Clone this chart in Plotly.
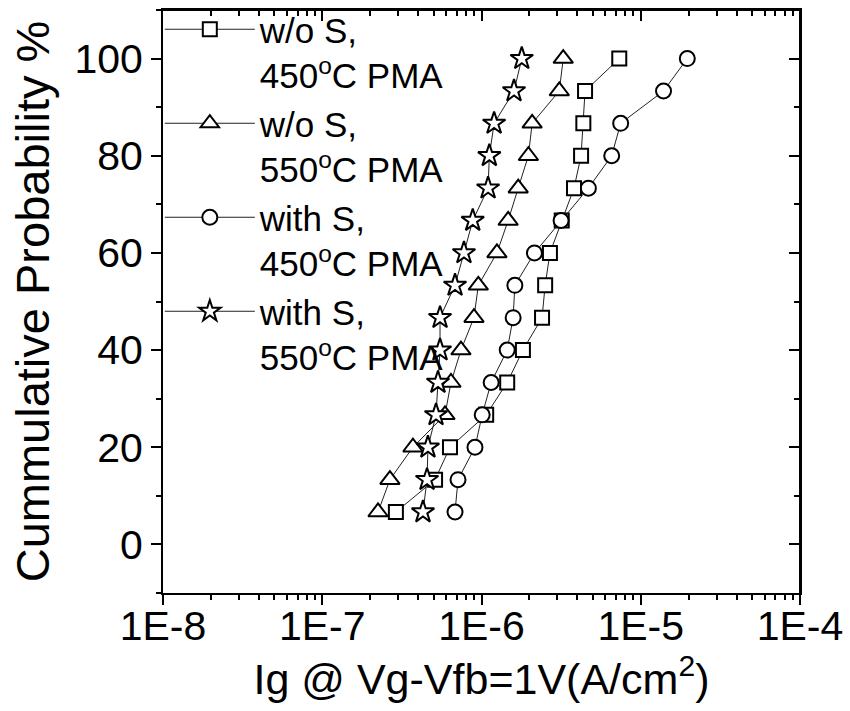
import plotly.graph_objects as go

prob = [6.67, 13.33, 20.0, 26.67, 33.33, 40.0, 46.67, 53.33, 60.0, 66.67, 73.33, 80.0, 86.67, 93.33, 100.0]

ig_woS_450 = [2.90e-7, 5.11e-7, 6.34e-7, 1.07e-6, 1.45e-6, 1.82e-6, 2.40e-6, 2.51e-6, 2.69e-6,
              3.19e-6, 3.81e-6, 4.22e-6, 4.36e-6, 4.47e-6, 7.33e-6]
ig_woS_550 = [2.24e-7, 2.66e-7, 3.71e-7, 5.90e-7, 6.43e-7, 7.43e-7, 8.97e-7, 9.55e-7, 1.25e-6,
              1.47e-6, 1.70e-6, 1.97e-6, 2.08e-6, 3.08e-6, 3.26e-6]
ig_S_450 = [6.82e-7, 7.12e-7, 9.10e-7, 1.01e-6, 1.15e-6, 1.45e-6, 1.58e-6, 1.62e-6, 2.15e-6,
            3.16e-6, 4.69e-6, 6.57e-6, 7.48e-6, 1.39e-5, 1.96e-5]
ig_S_550 = [4.29e-7, 4.55e-7, 4.61e-7, 5.18e-7, 5.33e-7, 5.49e-7, 5.49e-7, 6.82e-7, 7.76e-7,
            8.81e-7, 1.10e-6, 1.12e-6, 1.20e-6, 1.60e-6, 1.79e-6]

names = ["w/o S,<br>450<sup>o</sup>C PMA", "w/o S,<br>550<sup>o</sup>C PMA",
         "with S,<br>450<sup>o</sup>C PMA", "with S,<br>550<sup>o</sup>C PMA"]
series = [ig_woS_450, ig_woS_550, ig_S_450, ig_S_550]
symbols = ["square", "triangle-up", "circle", "star"]
sizes = [14, 17, 15, 17]

x_tickvals = [1e-8, 1e-7, 1e-6, 1e-5, 1e-4]
x_ticktext = ["1E-8", "1E-7", "1E-6", "1E-5", "1E-4"]
x_minor = [m * 10.0 ** e for e in range(-8, -4) for m in range(2, 10)]
y_tickvals = [0, 20, 40, 60, 80, 100]
y_minor = [-10, 10, 30, 50, 70, 90, 110]

FONT = "Liberation Sans, Arial, sans-serif"

fig = go.Figure()
for name, xs, sym, sz in zip(names, series, symbols, sizes):
    fig.add_trace(go.Scatter(
        x=xs, y=prob, name=name, mode="lines+markers",
        line=dict(color="#222", width=1),
        marker=dict(symbol=sym, size=sz, color="white", line=dict(color="black", width=2)),
    ))

# invisible anchor trace for the mirrored (top/right) tick axes
fig.add_trace(go.Scatter(x=[1e-6], y=[50], xaxis="x2", yaxis="y2", mode="markers",
                         marker=dict(opacity=0), showlegend=False, hoverinfo="skip"))

main_common = dict(showline=True, mirror=True, linecolor="black", linewidth=2, showgrid=False, zeroline=False)
twin_common = dict(showline=True, linecolor="black", linewidth=2, showgrid=False, zeroline=False,
                   showticklabels=False, ticks="inside", ticklen=10, tickwidth=1.5, tickcolor="black")

fig.update_layout(
    width=850, height=711,
    margin=dict(l=163, r=50, t=10, b=118, autoexpand=False),
    paper_bgcolor="white", plot_bgcolor="white",
    font=dict(family=FONT, color="black"),
    showlegend=True,
    legend=dict(x=-0.005, y=1.0, yref="container", xanchor="left", yanchor="top", bgcolor="rgba(0,0,0,0)",
                font=dict(size=35, family=FONT), valign="top", itemwidth=90, maxheight=700,
                tracegroupgap=0, borderwidth=0),
    xaxis=dict(type="log", range=[-8, -4], anchor="y", tickmode="array", tickvals=x_tickvals, ticktext=x_ticktext,
               ticks="outside", ticklen=10, tickwidth=1.5, tickcolor="black",
               tickfont=dict(size=41, family=FONT), ticklabelstandoff=-14,
               minor=dict(tickmode="array", tickvals=x_minor, ticks="outside", ticklen=5, tickwidth=1.5,
                          tickcolor="black"),
               title=dict(text="Ig @ Vg-Vfb=1V(A/cm<sup>2</sup>)", font=dict(size=43, family=FONT), standoff=14),
               **main_common),
    xaxis2=dict(type="log", range=[-8, -4], overlaying="x", side="top", anchor="free", position=1.0,
                tickmode="array", tickvals=x_tickvals,
                minor=dict(tickmode="array", tickvals=x_minor, ticks="inside", ticklen=5, tickwidth=1.5,
                           tickcolor="black"),
                **twin_common),
    yaxis=dict(range=[-10, 110], anchor="x", tickmode="array", tickvals=y_tickvals,
               ticks="outside", ticklen=10, tickwidth=1.5, tickcolor="black",
               tickfont=dict(size=41, family=FONT),
               minor=dict(tickmode="array", tickvals=y_minor, ticks="outside", ticklen=5, tickwidth=1.5,
                          tickcolor="black"),
               title=dict(text="Cummulative Probability %", font=dict(size=47, family=FONT), standoff=10),
               **main_common),
    yaxis2=dict(range=[-10, 110], overlaying="y", side="right", anchor="free", position=1.0,
                tickmode="array", tickvals=y_tickvals,
                minor=dict(tickmode="array", tickvals=y_minor, ticks="inside", ticklen=5, tickwidth=1.5,
                           tickcolor="black"),
                **twin_common),
)

fig.write_html("out.html")
